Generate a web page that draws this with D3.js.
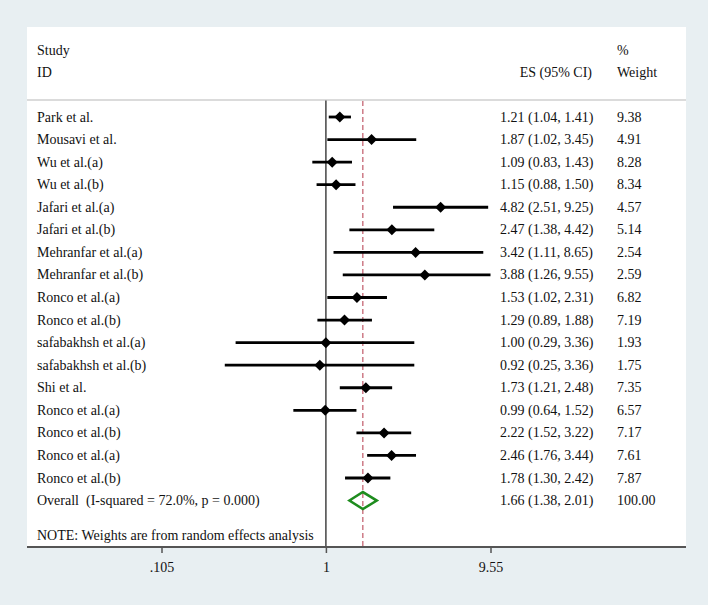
<!DOCTYPE html>
<html><head><meta charset="utf-8">
<script src="https://cdn.jsdelivr.net/npm/d3@7"></script>
<style>body{margin:0;background:#e8eff2;} svg{display:block;}</style>
</head><body>
<svg id="c" width="708" height="605"></svg>
<script>
const studies = ["Park et al.","Mousavi et al.","Wu et al.(a)","Wu et al.(b)","Jafari et al.(a)","Jafari et al.(b)","Mehranfar et al.(a)","Mehranfar et al.(b)","Ronco et al.(a)","Ronco et al.(b)","safabakhsh et al.(a)","safabakhsh et al.(b)","Shi et al.","Ronco et al.(a)","Ronco et al.(b)","Ronco et al.(a)","Ronco et al.(b)"];
const es = [1.21,1.87,1.09,1.15,4.82,2.47,3.42,3.88,1.53,1.29,1.00,0.92,1.73,0.99,2.22,2.46,1.78];
const lo = [1.04,1.02,0.83,0.88,2.51,1.38,1.11,1.26,1.02,0.89,0.29,0.25,1.21,0.64,1.52,1.76,1.30];
const hi = [1.41,3.45,1.43,1.50,9.25,4.42,8.65,9.55,2.31,1.88,3.36,3.36,2.48,1.52,3.22,3.44,2.42];
const weights = ["9.38","4.91","8.28","8.34","4.57","5.14","2.54","2.59","6.82","7.19","1.93","1.75","7.35","6.57","7.17","7.61","7.87"];
const overall = {label:"Overall  (I-squared = 72.0%, p = 0.000)", es:1.66, lo:1.38, hi:2.01, text:"1.66 (1.38, 2.01)", weight:"100.00"};
const tickVals = [0.105, 1, 9.55];
const tickLabels = [".105","1","9.55"];
const note = "NOTE: Weights are from random effects analysis";

const svg = d3.select("#c");
const font = "'Liberation Serif'";
const fs = 14;
const panel = {x0:27, x1:686, y0:27, y1:547};

svg.append("rect").attr("x",panel.x0).attr("y",panel.y0).attr("width",panel.x1-panel.x0).attr("height",panel.y1-panel.y0).attr("fill","#fff");

const x = d3.scaleLog().domain([0.105, 9.55]).range([161.5, 490.5]);
const y = d3.scaleLinear().domain([0, 16]).range([117, 478]);

// header
const hdr = svg.append("g").attr("font-family",font).attr("font-size",fs).attr("fill","#111");
hdr.append("text").attr("x",37).attr("y",55).text("Study");
hdr.append("text").attr("x",37).attr("y",77).text("ID");
hdr.append("text").attr("x",592).attr("y",77).attr("text-anchor","end").text("ES (95% CI)");
hdr.append("text").attr("x",617).attr("y",55).text("%");
hdr.append("text").attr("x",617).attr("y",77).text("Weight");
svg.append("line").attr("x1",panel.x0).attr("x2",panel.x1).attr("y1",100).attr("y2",100).attr("stroke","#cfcfcf").attr("stroke-width",1.5);

// reference lines
svg.append("line").attr("x1",x(1)).attr("x2",x(1)).attr("y1",100.5).attr("y2",panel.y1).attr("stroke","#444").attr("stroke-width",1.5);
svg.append("line").attr("x1",x(overall.es)).attr("x2",x(overall.es)).attr("y1",101).attr("y2",panel.y1).attr("stroke","#b5384a").attr("stroke-width",1).attr("stroke-dasharray","5,3");

// rows
const rows = svg.append("g");
studies.forEach((s,i)=>{
  const yy = y(i);
  rows.append("line").attr("x1",x(lo[i])).attr("x2",x(hi[i])).attr("y1",yy).attr("y2",yy).attr("stroke","#000").attr("stroke-width",2.8);
  const cx = x(es[i]), r=5.5;
  rows.append("path").attr("d",`M${cx},${yy-r}L${cx+r},${yy}L${cx},${yy+r}L${cx-r},${yy}Z`).attr("fill","#000");
  const t = rows.append("g").attr("font-family",font).attr("font-size",fs).attr("fill","#111");
  t.append("text").attr("x",37).attr("y",yy+4.5).text(s);
  t.append("text").attr("x",500).attr("y",yy+4.5).text(`${es[i].toFixed(2)} (${lo[i].toFixed(2)}, ${hi[i].toFixed(2)})`);
  t.append("text").attr("x",617).attr("y",yy+4.5).text(weights[i]);
});

// overall
const oy = y(17);
svg.append("path").attr("d",`M${x(overall.lo)},${oy}L${x(overall.es)},${oy-8.5}L${x(overall.hi)},${oy}L${x(overall.es)},${oy+8.5}Z`)
  .attr("fill","none").attr("stroke","#1e8c1e").attr("stroke-width",2.5);
const ot = svg.append("g").attr("font-family",font).attr("font-size",fs).attr("fill","#111");
ot.append("text").attr("x",37).attr("y",oy+4.5).text(overall.label).attr("xml:space","preserve").style("white-space","pre");
ot.append("text").attr("x",500).attr("y",oy+4.5).text(overall.text);
ot.append("text").attr("x",617).attr("y",oy+4.5).text(overall.weight);
ot.append("text").attr("x",37).attr("y",540).text(note);

// axis
const axis = d3.axisBottom(x).tickValues(tickVals).tickFormat((d,i)=>tickLabels[i]).tickSize(6).tickPadding(9);
const ag = svg.append("g").attr("transform",`translate(0,${panel.y1})`).call(axis);
ag.select(".domain").remove();
ag.selectAll(".tick line").attr("stroke","#555").attr("stroke-width",1.5);
ag.selectAll(".tick text").attr("font-family",font).attr("font-size",fs).attr("fill","#111");
svg.append("line").attr("x1",panel.x0).attr("x2",panel.x1).attr("y1",panel.y1).attr("y2",panel.y1).attr("stroke","#555").attr("stroke-width",2);
</script>
</body></html>
